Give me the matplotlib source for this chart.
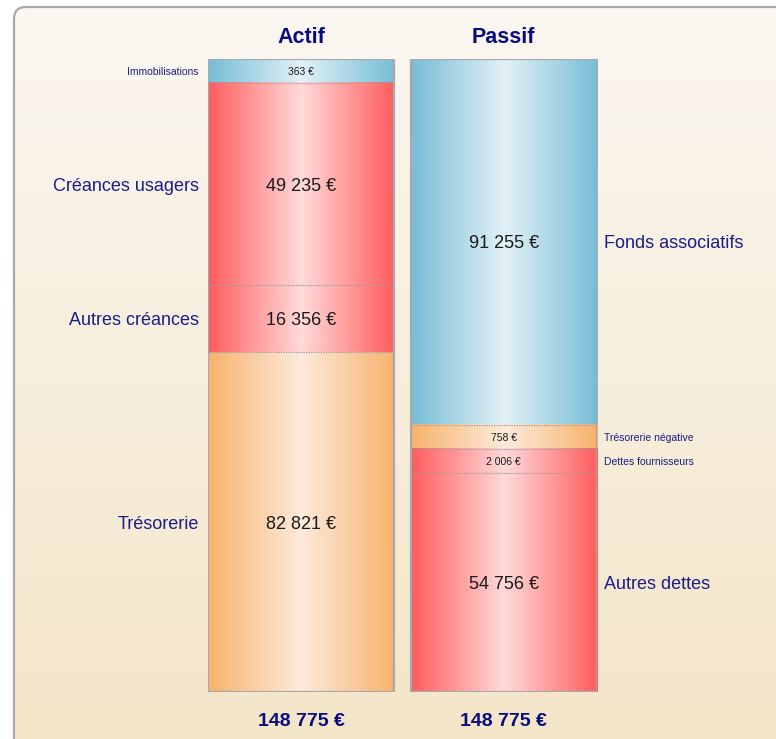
import numpy as np
import matplotlib
matplotlib.use("Agg")
import matplotlib.pyplot as plt
from matplotlib.colors import LinearSegmentedColormap
from matplotlib.patches import FancyBboxPatch, Rectangle

# ---------------- data ----------------
columns = ["Actif", "Passif"]
actif_labels = ["Immobilisations", "Créances usagers", "Autres créances", "Trésorerie"]
actif_values = [363, 49235, 16356, 82821]
actif_kinds = ["blue", "red", "red", "orange"]
passif_labels = ["Fonds associatifs", "Trésorerie négative", "Dettes fournisseurs", "Autres dettes"]
passif_values = [91255, 758, 2006, 54756]
passif_kinds = ["blue", "orange", "red", "red"]
total_labels = ["148 775 €", "148 775 €"]

palette = {
    "blue": ("#76BDD6", "#E2F1F6"),
    "red": ("#FF5C5C", "#FFDADA"),
    "orange": ("#F7B26C", "#FDEBDC"),
}

FONT = ["Liberation Sans", "DejaVu Sans"]
plt.rcParams["font.family"] = FONT

W, H = 776, 739
fig = plt.figure(figsize=(W / 100, H / 100), dpi=100)

# ---------------- background panel ----------------
bg = fig.add_axes([0, 0, 1, 1])
bg.set_xlim(0, W)
bg.set_ylim(H, 0)
bg.axis("off")
grad = np.linspace(0, 1, 256).reshape(-1, 1)
bg_cmap = LinearSegmentedColormap.from_list("bg", ["#FBF7F1", "#F3E5C7"])
img = bg.imshow(grad, cmap=bg_cmap, extent=[14, W + 20, H + 20, 7], aspect="auto", zorder=0)
panel = FancyBboxPatch((14, 7), W + 20, H + 20, boxstyle="round,pad=0,rounding_size=12",
                       facecolor="none", edgecolor="#A9A9A9", linewidth=1.6, zorder=2)
bg.add_patch(panel)
img.set_clip_path(panel)

# ---------------- bars ----------------
def display_heights(values, min_frac=0.038):
    total = float(sum(values))
    m = min_frac * total
    small = [v < m for v in values]
    rest = total - m * sum(small)
    big_sum = sum(v for v, s in zip(values, small) if not s)
    return [m if s else v * rest / big_sum for v, s in zip(values, small)], total

left_px, right_px, top_px, bot_px = 208, 597, 59, 692
ax = fig.add_axes([left_px / W, (H - bot_px) / H, (right_px - left_px) / W, (bot_px - top_px) / H])
ax.set_xlim(-0.46, 1.46)
ax.patch.set_alpha(0)
ax.axis("off")
bar_w = 0.92

xg = np.abs(np.linspace(-1, 1, 256)).reshape(1, -1)

def draw_column(xc, labels, values, kinds, side):
    heights, total = display_heights(values)
    bottom = 0.0
    x0, x1 = xc - bar_w / 2, xc + bar_w / 2
    for i, (lab, v, k, h) in enumerate(zip(labels, values, kinds, heights)):
        edge, center = palette[k]
        cm = LinearSegmentedColormap.from_list(k, [center, edge])
        ax.imshow(xg, cmap=cm, vmin=0, vmax=1, extent=[x0, x1, bottom + h, bottom],
                  aspect="auto", zorder=1, interpolation="bilinear")
        small = h < 0.05 * total
        fs_val = 7.5 if small else 13
        fs_lab = 7.5 if small else 13
        ym = bottom + h / 2
        ax.text(xc, ym, f"{v:,}".replace(",", " ") + " €", ha="center", va="center_baseline",
                fontsize=fs_val, color="#1a1a1a", zorder=3)
        if side == "left":
            ax.text(x0 - 0.045, ym, lab, ha="right", va="center_baseline", fontsize=fs_lab,
                    color="#1C1C8A", zorder=3, clip_on=False)
        else:
            ax.text(x1 + 0.035, ym, lab, ha="left", va="center_baseline", fontsize=fs_lab,
                    color="#1C1C8A", zorder=3, clip_on=False)
        if i > 0:
            ax.plot([x0, x1], [bottom, bottom], linestyle=(0, (1, 1)), color="#9A9AA0",
                    linewidth=0.9, zorder=2)
        bottom += h
    ax.add_patch(Rectangle((x0, 0), bar_w, total, facecolor="none", edgecolor="#A8A8B0",
                           linewidth=1.6, zorder=4))
    return total

t1 = draw_column(0, actif_labels, actif_values, actif_kinds, "left")
t2 = draw_column(1, passif_labels, passif_values, passif_kinds, "right")
ax.set_ylim(max(t1, t2), 0)

# ---------------- titles & totals ----------------
for xc, title, tot in zip([0, 1], columns, total_labels):
    ax.text(xc, 1 + 24 / 633, title, transform=ax.get_xaxis_transform(), ha="center",
            va="center_baseline", fontsize=15.5, fontweight="bold", color="#0B0B80", clip_on=False)
    ax.text(xc, -28 / 633, tot, transform=ax.get_xaxis_transform(), ha="center",
            va="center_baseline", fontsize=14, fontweight="bold", color="#0B0B80", clip_on=False)

fig.savefig("out.png", dpi=100)
